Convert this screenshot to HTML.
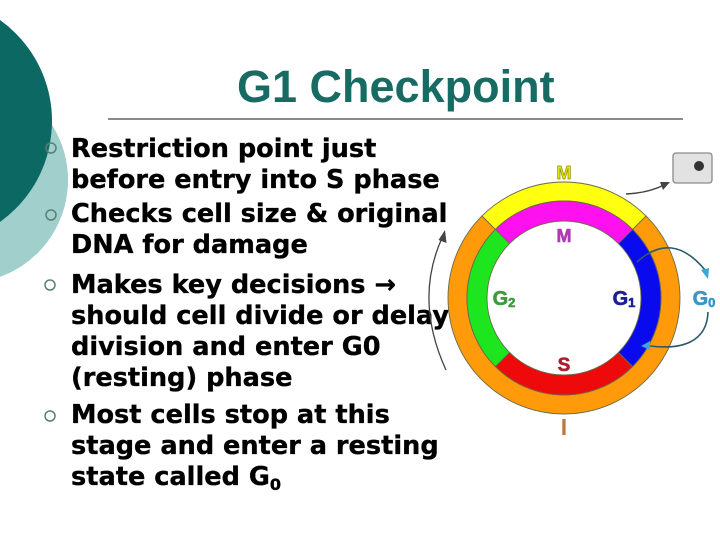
<!DOCTYPE html>
<html><head><meta charset="utf-8"><style>
html,body{margin:0;padding:0;background:#fff;}
svg{display:block;}
</style></head><body>
<svg width="720" height="539" viewBox="0 0 720 539" xmlns="http://www.w3.org/2000/svg">
<rect width="720" height="539" fill="#fff"/>
<!-- left decorative circles -->
<circle cx="-35" cy="180" r="103" fill="#a0cfcc"/>
<circle cx="-72" cy="121" r="124" fill="#0c6862"/>

<!-- title -->
<text x="237" y="102" font-family="Liberation Sans, Arial, sans-serif" font-weight="bold" font-size="45" fill="#176b63">G1 Checkpoint</text>
<line x1="108" y1="119" x2="683" y2="119" stroke="#8a8a8a" stroke-width="2"/>

<!-- bullets -->
<g fill="none" stroke="#5a7f78" stroke-width="1.5">
<circle cx="51" cy="148" r="5"/>
<circle cx="51" cy="215" r="5"/>
<circle cx="50" cy="285" r="5"/>
<circle cx="50" cy="416" r="5"/>
</g>
<g font-family="DejaVu Sans, Verdana, sans-serif" font-weight="bold" font-size="25.6" fill="#000" stroke="#000" stroke-width="0.35">
<text x="71" y="157">Restriction point just</text>
<text x="71" y="188">before entry into S phase</text>
<text x="71" y="222">Checks cell size &amp; original</text>
<text x="71" y="253">DNA for damage</text>
<text x="71" y="293">Makes key decisions →</text>
<text x="71" y="324">should cell divide or delay</text>
<text x="71" y="355">division and enter G0</text>
<text x="71" y="386">(resting) phase</text>
<text x="71" y="423">Most cells stop at this</text>
<text x="71" y="454">stage and enter a resting</text>
<text x="71" y="485">state called G<tspan font-size="16" dy="5">0</tspan></text>
</g>

<!-- cell cycle ring -->
<g stroke="#6a6a4a" stroke-width="0.9">
<path d="M 646.02 215.98 A 116 116 0 1 1 481.98 215.98 L 495.41 229.41 A 97 97 0 1 0 632.59 229.41 Z" fill="#ff9a0a"/>
<path d="M 481.98 215.98 A 116 116 0 0 1 646.02 215.98 L 632.59 229.41 A 97 97 0 0 0 495.41 229.41 Z" fill="#ffff10"/>
<path d="M 495.41 229.41 A 97 97 0 0 1 632.59 229.41 L 618.45 243.55 A 77 77 0 0 0 509.55 243.55 Z" fill="#ff10ee"/>
<path d="M 632.59 229.41 A 97 97 0 0 1 632.59 366.59 L 618.45 352.45 A 77 77 0 0 0 618.45 243.55 Z" fill="#0a0aee"/>
<path d="M 632.59 366.59 A 97 97 0 0 1 495.41 366.59 L 509.55 352.45 A 77 77 0 0 0 618.45 352.45 Z" fill="#ee0a0a"/>
<path d="M 495.41 366.59 A 97 97 0 0 1 495.41 229.41 L 509.55 243.55 A 77 77 0 0 0 509.55 352.45 Z" fill="#1ee61e"/>
</g>

<!-- labels -->
<g font-family="Liberation Sans, Arial, sans-serif" font-weight="bold" text-anchor="middle">
<text x="564" y="179" font-size="18" fill="#e8e800" stroke="#8a8a10" stroke-width="0.7">M</text>
<text x="564" y="242" font-size="18" fill="#b03ab4" stroke="#b03ab4" stroke-width="0.6">M</text>
<text x="504" y="305" font-size="20" fill="#3c9c3c" stroke="#3c9c3c" stroke-width="0.6">G<tspan font-size="13" dy="2">2</tspan></text>
<text x="624" y="305" font-size="20" fill="#1e1e96" stroke="#1e1e96" stroke-width="0.6">G<tspan font-size="13" dy="2">1</tspan></text>
<text x="704" y="305" font-size="20" fill="#3a96c8" stroke="#3a96c8" stroke-width="0.6">G<tspan font-size="13" dy="2">0</tspan></text>
<text x="564" y="371" font-size="19" fill="#a8202e" stroke="#a8202e" stroke-width="0.6">S</text>
<text x="564" y="435" font-size="23" fill="#c07838">I</text>
</g>

<!-- left arrow -->
<path d="M 446 370 Q 414 300 442 238" fill="none" stroke="#444" stroke-width="1.3"/>
<polygon points="445,230 446.5,243 438.5,240" fill="#444"/>

<!-- top right arrow & cell box -->
<path d="M 626 194 Q 648 193 664 185" fill="none" stroke="#444" stroke-width="1.5"/>
<polygon points="670,182 663,190 660,182" fill="#444"/>
<rect x="673" y="153" width="39" height="30" rx="3" fill="#e2e2e2" stroke="#8a8a8a" stroke-width="1.3"/>
<circle cx="699" cy="166" r="5" fill="#333"/>

<!-- G0 arrows -->
<path d="M 637 262 Q 672 230 705 270" fill="none" stroke="#2c5a6a" stroke-width="1.6"/>
<polygon points="708,279 701,270 709,268" fill="#3aa6d6"/>
<path d="M 708 312 C 707 342 682 350 650 346" fill="none" stroke="#2c5a6a" stroke-width="1.6"/>
<polygon points="641,346 650,341 650,350" fill="#3aa6d6"/>
</svg>
</body></html>
